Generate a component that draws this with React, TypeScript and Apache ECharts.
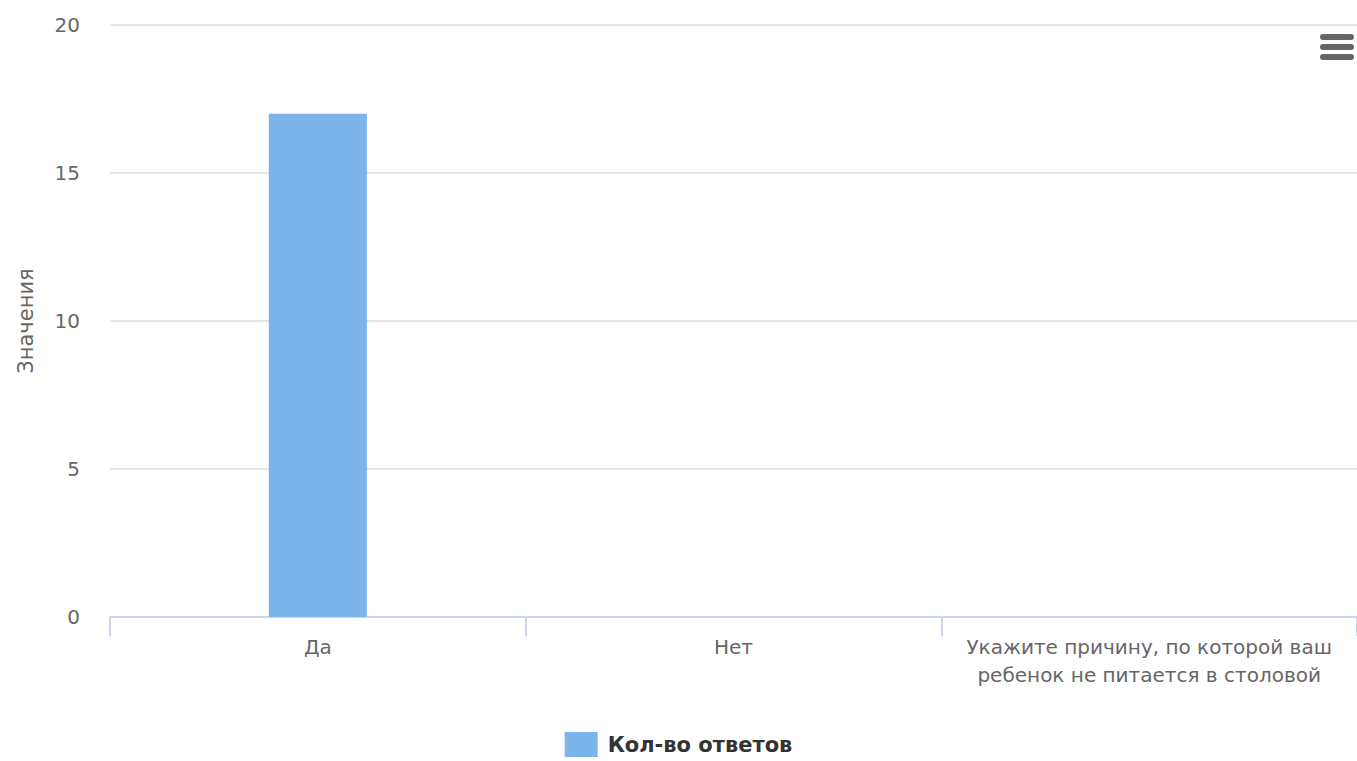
import React, { useEffect, useRef } from "react";
import * as echarts from "echarts";

const categories = ["Да", "Нет", "Укажите причину, по которой ваш\nребенок не питается в столовой"];
const seriesName = "Кол-во ответов";
const values = [17, 0, 0];
const yAxisTitle = "Значения";

export default function App() {
  const ref = useRef<HTMLDivElement>(null);
  useEffect(() => {
    if (!ref.current) return;
    const chart = echarts.init(ref.current, undefined, { renderer: "svg" });
    const font = "'DejaVu Sans', 'Noto Sans', sans-serif";
    chart.setOption({
      animation: false,
      textStyle: { fontFamily: font },
      grid: { left: 110, right: 0, top: 25, bottom: 144, containLabel: false },
      legend: {
        data: [seriesName],
        top: 732,
        left: "center",
        padding: 0,
        icon: "rect",
        itemWidth: 33,
        itemHeight: 25,
        itemGap: 10,
        textStyle: { fontSize: 21, fontWeight: "bold", color: "#333", fontFamily: font, padding: [0, 0, 0, 5] },
      },
      xAxis: {
        type: "category",
        data: categories,
        axisLine: { lineStyle: { color: "#ccd6eb", width: 2 } },
        axisTick: { show: true, length: 19, lineStyle: { color: "#ccd6eb", width: 2 } },
        axisLabel: { color: "#666", fontSize: 20, margin: 16, lineHeight: 28, interval: 0, fontFamily: font },
      },
      yAxis: {
        type: "value",
        min: 0,
        max: 20,
        interval: 5,
        name: yAxisTitle,
        nameLocation: "middle",
        nameGap: 74,
        nameTextStyle: { color: "#666", fontSize: 21, fontFamily: font },
        axisLine: { show: false },
        axisTick: { show: false },
        axisLabel: { color: "#666", fontSize: 20, margin: 30, fontFamily: font },
        splitLine: { lineStyle: { color: "#e6e6e6", width: 2 } },
      },
      series: [
        {
          name: seriesName,
          type: "bar",
          data: values,
          barWidth: "23.6%",
          itemStyle: { color: "#7cb5ec" },
        },
      ],
      graphic: [
        { type: "rect", shape: { x: 1320, y: 34, width: 34, height: 6, r: 3 }, style: { fill: "#666" } },
        { type: "rect", shape: { x: 1320, y: 44, width: 34, height: 6, r: 3 }, style: { fill: "#666" } },
        { type: "rect", shape: { x: 1320, y: 54, width: 34, height: 6, r: 3 }, style: { fill: "#666" } },
      ],
    });
    return () => chart.dispose();
  }, []);
  return (
    <div
      ref={ref}
      style={{ position: "fixed", left: 0, top: 0, width: 1357, height: 761, background: "#fff" }}
    />
  );
}
